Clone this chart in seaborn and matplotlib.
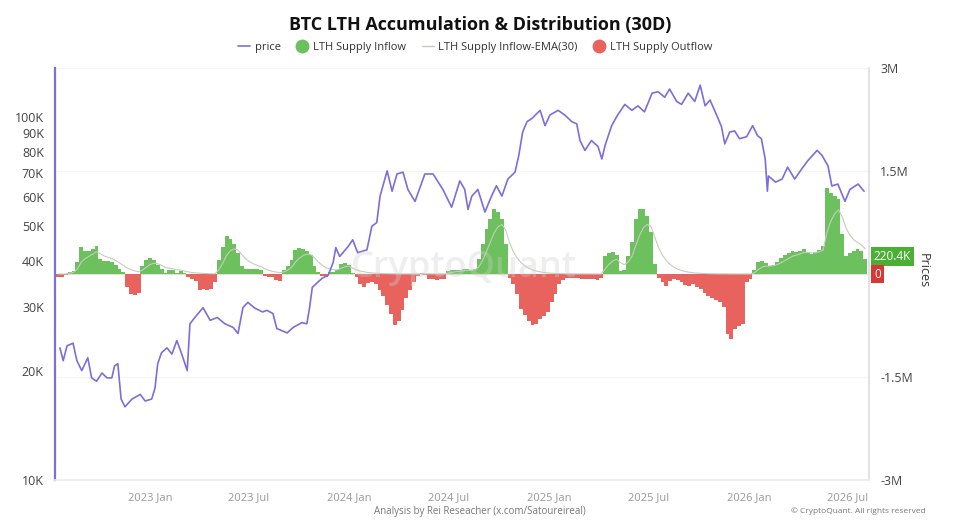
import pandas as pd
import numpy as np
import matplotlib
matplotlib.use("Agg")
import matplotlib.pyplot as plt
import matplotlib.dates as mdates
import matplotlib.transforms as mtransforms
from matplotlib.lines import Line2D
from matplotlib.ticker import FixedLocator, FuncFormatter, NullLocator
import seaborn as sns

# BTC price (USD thousands)
price_dates = [
    "2022-07-20", "2022-07-26", "2022-08-02", "2022-08-13", "2022-08-20", "2022-08-29",
    "2022-09-09", "2022-09-16", "2022-09-25", "2022-10-05", "2022-10-14", "2022-10-23",
    "2022-10-28", "2022-11-03", "2022-11-09", "2022-11-16", "2022-11-29", "2022-12-14",
    "2022-12-23", "2023-01-04", "2023-01-10", "2023-01-15", "2023-01-22", "2023-02-01",
    "2023-02-10", "2023-02-19", "2023-02-28", "2023-03-10", "2023-03-15", "2023-03-24",
    "2023-04-08", "2023-04-21", "2023-05-04", "2023-05-18", "2023-06-02", "2023-06-11",
    "2023-06-20", "2023-06-29", "2023-07-12", "2023-07-26", "2023-08-03", "2023-08-14",
    "2023-08-21", "2023-09-09", "2023-09-20", "2023-10-06", "2023-10-15", "2023-10-20",
    "2023-10-25", "2023-11-12", "2023-11-23", "2023-12-02", "2023-12-07", "2023-12-14",
    "2023-12-29", "2024-01-07", "2024-01-16", "2024-02-02", "2024-02-11", "2024-02-20",
    "2024-02-26", "2024-03-10", "2024-03-19", "2024-03-28", "2024-04-08", "2024-04-17",
    "2024-04-30", "2024-05-18", "2024-06-02", "2024-06-20", "2024-07-06", "2024-07-21",
    "2024-07-30", "2024-08-05", "2024-08-12", "2024-08-23", "2024-09-05", "2024-09-17",
    "2024-09-26", "2024-10-06", "2024-10-17", "2024-10-30", "2024-11-06", "2024-11-13",
    "2024-11-21", "2024-11-30", "2024-12-15", "2024-12-24", "2025-01-02", "2025-01-17",
    "2025-01-29", "2025-02-11", "2025-02-20", "2025-02-26", "2025-03-07", "2025-03-19",
    "2025-03-31", "2025-04-07", "2025-04-13", "2025-04-25", "2025-05-06", "2025-05-19",
    "2025-06-01", "2025-06-12", "2025-06-24", "2025-07-08", "2025-07-19", "2025-07-31",
    "2025-08-09", "2025-08-22", "2025-08-31", "2025-09-12", "2025-09-24", "2025-10-04",
    "2025-10-13", "2025-10-22", "2025-11-03", "2025-11-12", "2025-11-18", "2025-11-27",
    "2025-12-06", "2025-12-15", "2025-12-28", "2026-01-08", "2026-01-17", "2026-01-24",
    "2026-01-31", "2026-02-04", "2026-02-06", "2026-02-19", "2026-03-03", "2026-03-13",
    "2026-03-26", "2026-04-08", "2026-04-19", "2026-05-06", "2026-05-15", "2026-05-26",
    "2026-06-02", "2026-06-13", "2026-06-26", "2026-07-05", "2026-07-20", "2026-07-31",
]
price_k = [
    23.1, 21.3, 23.4, 23.8, 21.3, 20.0,
    21.7, 19.1, 18.7, 19.7, 19.1, 19.1,
    20.6, 20.9, 16.7, 15.9, 16.7, 17.2,
    16.5, 16.7, 17.9, 20.9, 22.4, 23.1,
    22.2, 24.2, 22.2, 20.0, 26.9, 28.0,
    29.8, 27.5, 28.0, 26.9, 26.3, 25.3,
    29.8, 30.8, 29.7, 29.0, 29.3, 28.7,
    26.1, 25.4, 26.3, 27.1, 26.9, 29.8,
    33.9, 35.9, 36.6, 39.6, 43.6, 41.2,
    43.8, 45.8, 42.2, 43.0, 49.9, 51.1,
    60.4, 70.9, 62.3, 69.5, 70.3, 63.0,
    58.4, 69.5, 69.5, 63.0, 56.3, 66.5,
    63.0, 55.5, 60.4, 63.0, 54.6, 60.4,
    64.5, 60.4, 67.3, 70.3, 78.2, 90.6,
    96.8, 98.8, 104, 94.4, 101, 104,
    101, 96.8, 95.5, 85.9, 80.7, 85.9,
    82.7, 76.4, 83.4, 94.4, 101, 108,
    104, 107, 103, 116, 117, 113,
    119, 110, 108, 116, 110, 122,
    107, 111, 101, 93.8, 84.1, 90.6,
    91.3, 86.9, 88.0, 94.4, 88.6, 86.9,
    76.4, 62.3, 68.6, 66.0, 67.3, 72.6,
    67.3, 71.8, 75.6, 80.7, 78.2, 73.1,
    64.4, 65.2, 58.4, 63.0, 65.2, 62.3,
]

# LTH supply net flow (thousands BTC), weekly, + = inflow, - = outflow
flow_start = "2022-07-17"
flow_end = "2026-08-02"
lth_flow_k = [
    # 2022
    -45, -45, -20, 30, 45, 175, 390, 335, 335, 365, 410, 220, 190, 190, 175, 130,
    75, 30, -190, -290, -305, -275, 115, 205,
    # 2023
    235, 205, 130, 75, 15, 60, 60, 15, 45, 10, -45, -75, -100, -235, -220, -235,
    -220, -115, 205, 395, 555, 510, 435, 305, 115, 75, 75, 70, 70, 60, -30, -45,
    -45, -90, -100, 60, 115, 205, 350, 380, 365, 335, 275, 115, 30, -30, -45, 30,
    30, 60, 145, 160,
    # 2024
    130, 15, -45, -145, -190, -130, -115, -145, -235, -320, -450, -580, -740, -685, -525, -350,
    -235, -115, -30, 10, -15, -75, -75, -85, -75, -70, 45, 55, 55, 60, 70, 70,
    60, 70, 220, 435, 655, 800, 945, 905, 800, 435, -60, -145, -290, -510, -595, -685,
    -740, -730, -655, -610,
    # 2025
    -555, -410, -290, -145, -85, -60, -60, -60, -60, -75, -70, -75, -75, -85, -60, 260,
    305, 320, 275, 45, 60, 260, 465, 800, 945, 945, 845, 610, 145, -60, -115, -175,
    -100, -75, -85, -115, -160, -175, -145, -190, -220, -275, -320, -350, -380, -410, -480, -875,
    -945, -800, -755, -730,
    # 2026
    -115, -75, 60, 175, 190, 160, 115, 130, 175, 235, 275, 305, 335, 320, 335, 365,
    320, 290, 320, 350, 410, 1250, 1180, 1135, 1090, 580, 260, 305, 335, 365, 335, 220.4,
]

price_color = "#7b6fd8"
green = "#6cc05e"
red = "#e8625e"
ema_color = "#c3cdbd"

sns.set_theme(style="white")
plt.rcParams["font.family"] = ["Open Sans", "DejaVu Sans"]

flow_dates = pd.date_range(flow_start, flow_end, freq="W")
flows = pd.Series(lth_flow_k, index=flow_dates) * 1000
inflow = flows.clip(lower=0)
outflow = flows.clip(upper=0)
ema = inflow.ewm(span=6).mean()

prices = pd.DataFrame({"date": pd.to_datetime(price_dates), "price": np.array(price_k) * 1000})

fig = plt.figure(figsize=(9.6, 5.3), dpi=100)
ax = fig.add_axes([0.0573, 0.0943, 0.8479, 0.7774])
ax2 = ax.twinx()

# flows on ax (right axis), price on ax2 (left axis)
ax.bar(inflow.index, inflow.values, width=7.2, color=green, linewidth=0, zorder=2)
ax.bar(outflow.index, outflow.values, width=7.2, color=red, linewidth=0, zorder=2)
sns.lineplot(x=ema.index, y=ema.values, ax=ax, color=ema_color, linewidth=0.8, zorder=3)
ax.axhline(0, color="#f0d0d0", linewidth=0.6, zorder=1)

sns.lineplot(data=prices, x="date", y="price", ax=ax2, color=price_color, linewidth=1.2, zorder=4)

ax.set_xlim(pd.Timestamp("2022-07-11"), pd.Timestamp("2026-08-09"))
ax.set_ylim(-3e6, 3e6)
ax.yaxis.tick_right()
ax.yaxis.set_label_position("right")
ax.yaxis.set_major_locator(FixedLocator([3e6, 1.5e6, -1.5e6, -3e6]))
ax.yaxis.set_major_formatter(FuncFormatter(lambda v, _: f"{v / 1e6:g}M"))
ax.tick_params(axis="y", labelsize=9, labelcolor="#444444", length=0, pad=8)
ax.grid(axis="y", color="#f4f4f4", linewidth=0.8)
ax.set_ylabel("")
ax.set_xlabel("")

ax.xaxis.set_major_locator(mdates.MonthLocator(bymonth=[1, 7]))
ax.xaxis.set_major_formatter(mdates.DateFormatter("%Y %b"))
ax.tick_params(axis="x", labelsize=8, labelcolor="#999999", color="#dddddd", length=3, width=0.8, pad=6)

ax2.set_yscale("log")
ax2.set_ylim(10000, 136000)
ax2.yaxis.tick_left()
ax2.yaxis.set_major_locator(FixedLocator([10000, 20000, 30000, 40000, 50000, 60000, 70000, 80000, 90000, 100000]))
ax2.yaxis.set_minor_locator(NullLocator())
ax2.yaxis.set_major_formatter(FuncFormatter(lambda v, _: f"{v / 1000:.0f}K"))
ax2.tick_params(axis="y", labelsize=9, labelcolor="#444444", length=0, pad=8)
ax2.set_ylabel("")
ax2.set_xlabel("")

for a in (ax, ax2):
    a.spines["top"].set_visible(False)
    a.spines["right"].set_color("#e2e2e2")
    a.spines["bottom"].set_color("#eeeeee")
    a.spines["left"].set_color(price_color)
    a.spines["left"].set_linewidth(1.6)
ax.spines["left"].set_visible(False)

# last-value tags on the right axis
trans = mtransforms.blended_transform_factory(ax.transAxes, ax.transData)
ax.text(1.006, 250000, f"{lth_flow_k[-1]:.1f}K", transform=trans, ha="left", va="center",
        color="white", fontsize=8.5, zorder=10, clip_on=False,
        bbox=dict(boxstyle="square,pad=0.25", fc="#4caf35", ec="none"))
ax.text(1.006, 0, "0", transform=trans, ha="left", va="center",
        color="white", fontsize=8.5, zorder=10, clip_on=False,
        bbox=dict(boxstyle="square,pad=0.25", fc="#d93636", ec="none"))
fig.text(0.962, 0.49, "Prices", rotation=270, ha="center", va="center", fontsize=9, color="#333333")

# watermark
fig.text(0.483, 0.495, "CryptoQuant", ha="center", va="center", fontsize=26,
         color="#d0d0d0", alpha=0.35, fontweight="semibold", zorder=20)

fig.suptitle("BTC LTH Accumulation & Distribution (30D)", x=0.5, y=0.97,
             fontsize=13, fontweight="bold", color="#111111")

handles = [
    Line2D([0], [0], color=price_color, linewidth=1.2),
    Line2D([0], [0], marker="o", linestyle="none", markersize=9, markerfacecolor=green, markeredgecolor=green),
    Line2D([0], [0], color=ema_color, linewidth=1),
    Line2D([0], [0], marker="o", linestyle="none", markersize=9, markerfacecolor=red, markeredgecolor=red),
]
labels = ["price", "LTH Supply Inflow", "LTH Supply Inflow-EMA(30)", "LTH Supply Outflow"]
fig.legend(handles, labels, loc="center", bbox_to_anchor=(0.495, 0.911), ncol=4, frameon=False,
           fontsize=8, handlelength=1.1, handletextpad=0.4, columnspacing=1.4, labelcolor="#333333")

fig.text(0.5, 0.035, "Analysis by Rei Reseacher (x.com/Satoureireal)", ha="center", va="center",
         fontsize=7, color="#777777")
fig.text(0.964, 0.035, "© CryptoQuant. All rights reserved", ha="right", va="center",
         fontsize=6, color="#777777")

fig.savefig("out.png", dpi=100)
